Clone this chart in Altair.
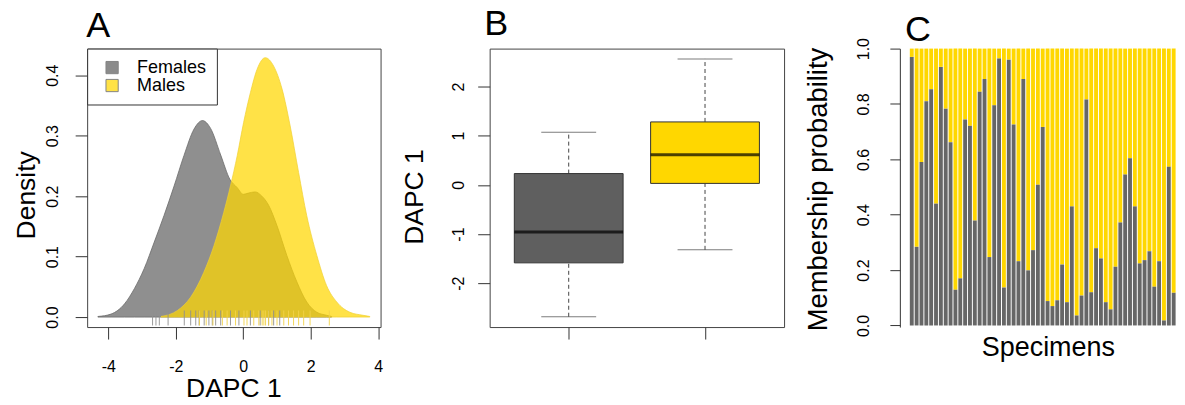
import altair as alt
import pandas as pd

FONT = "Liberation Sans"
INK = "#333333"
FRAME = "#444444"

# ---------------- data ----------------
groups = ["Females", "Males"]

# Panel A: kernel density curves (x = DAPC 1, y = density)
fem_x = [-4.31, -3.92, -3.52, -3.23, -2.94, -2.64, -2.35, -2.05, -1.76, -1.46,
         -1.21, -0.97, -0.67, -0.40, -0.18, 0.00, 0.15, 0.35, 0.55, 0.75,
         1.00, 1.29, 1.59, 1.88, 2.18, 2.47, 2.62]
fem_y = [0.001, 0.005, 0.022, 0.047, 0.080, 0.124, 0.168, 0.217, 0.267, 0.311,
         0.325, 0.312, 0.268, 0.228, 0.214, 0.203, 0.205, 0.207, 0.200, 0.185,
         0.151, 0.102, 0.058, 0.025, 0.008, 0.003, 0.001]
male_x = [-2.44, -1.95, -1.56, -1.17, -0.87, -0.58, -0.38, -0.18, 0.01, 0.21,
          0.41, 0.65, 0.90, 1.15, 1.39, 1.64, 1.88, 2.18, 2.47, 2.77,
          3.16, 3.55, 3.75]
male_y = [0.001, 0.011, 0.033, 0.074, 0.118, 0.173, 0.217, 0.267, 0.322, 0.371,
          0.410, 0.429, 0.415, 0.377, 0.316, 0.239, 0.168, 0.102, 0.052, 0.025,
          0.008, 0.003, 0.001]
fem_rug = [-2.69, -2.59, -2.49, -2.23, -1.75, -1.56, -1.41, -1.31, -1.16, -1.02,
           -0.92, -0.82, -0.67, -0.38, -0.13, 0.21, 0.50, 0.75, 0.90, 1.08]
male_rug = [-1.30, -1.10, -0.90, -0.62, -0.48, -0.23, 0.02, 0.11, 0.31, 0.46,
            0.56, 0.61, 0.66, 0.75, 0.85, 1.00, 1.20, 1.34, 1.49, 1.64,
            1.79, 1.98, 2.55]

# Panel B: boxplot summaries
box_pos = [1, 2]
whisk_lo = [-2.68, -1.32]
q1 = [-1.585, 0.03]
median = [-0.96, 0.61]
q3 = [0.23, 1.28]
whisk_hi = [1.07, 2.56]

# Panel C: membership probability (female group) per specimen
membership = [0.97, 0.284, 0.59, 0.81, 0.853, 0.44, 0.934, 0.783, 0.662, 0.129,
              0.17, 0.744, 0.721, 0.379, 0.844, 0.89, 0.247, 0.795, 0.964, 0.137,
              0.96, 0.726, 0.232, 0.89, 0.199, 0.272, 0.508, 0.717, 0.088, 0.07,
              0.091, 0.22, 0.084, 0.43, 0.036, 0.108, 0.816, 0.12, 0.279, 0.242,
              0.084, 0.058, 0.212, 0.372, 0.545, 0.604, 0.43, 0.224, 0.236, 0.268,
              0.14, 0.232, 0.018, 0.573, 0.118]

# ---------------- styles ----------------
DENS_FILL = ["#5f5f5f", "#FFD700"]
BOX_FILL = ["#666666", "#FFD700"]
H = 279
WC = 283


def title(letter, dx, offset):
    return alt.TitleParams(letter, anchor="start", frame="group", font=FONT,
                           fontSize=36, fontWeight="normal", color="black",
                           baseline="alphabetic", offset=offset, dx=dx)


common_axis = dict(grid=False, domain=False, tickColor=INK, tickWidth=1,
                   labelFont=FONT, labelFontSize=16, labelColor="black",
                   labelOverlap=False, labelFlush=False,
                   titleFont=FONT, titleFontWeight="normal", titleColor="black",
                   titleBaseline="alphabetic", titleAlign="center")

# ---------------- Panel A ----------------
fem_df = pd.DataFrame({"x": fem_x, "y": fem_y, "sex": groups[0]})
male_df = pd.DataFrame({"x": male_x, "y": male_y, "sex": groups[1]})
fem_rug_df = pd.DataFrame({"x": fem_rug, "sex": groups[0]})
male_rug_df = pd.DataFrame({"x": male_rug, "sex": groups[1]})

axA_x = alt.Axis(values=[-4, -2, 0, 2, 4], labelExpr="'' + datum.value",
                 tickSize=12, labelBaseline="alphabetic", labelPadding=33,
                 title="DAPC 1", titleFontSize=26.5, titleX=146.5, titleY=69.7,
                 **common_axis)
axA_y = alt.Axis(values=[0, 0.1, 0.2, 0.3, 0.4],
                 labelExpr="format(datum.value, '.1f')",
                 labelAngle=270, labelAlign="center", labelBaseline="alphabetic",
                 tickSize=12, labelPadding=17.3,
                 title="Density", titleFontSize=26.5, titleAngle=270,
                 titleX=-52.7, titleY=146.5, **common_axis)
xA = alt.X("x:Q", scale=alt.Scale(domain=[-4.63, 4.07], nice=False, zero=False, padding=0),
           axis=axA_x)
yA_scale = alt.Scale(domain=[-0.0165, 0.444], nice=False, zero=False, padding=0)
yA = alt.Y("y:Q", scale=yA_scale, axis=axA_y, stack=None)

legend = alt.Legend(orient="none", legendX=0, legendY=0, title=None,
                    strokeColor=INK, fillColor="white", padding=10,
                    symbolType="square", symbolSize=150, symbolStrokeColor="#555555",
                    symbolStrokeWidth=1, symbolOffset=6, symbolOpacity=0.72,
                    labelFont=FONT, labelFontSize=18, labelColor="black",
                    labelOffset=16, rowPadding=-3)
colA = alt.Color("sex:N", scale=alt.Scale(domain=groups, range=DENS_FILL), legend=legend)

area_f = alt.Chart(fem_df).mark_area(interpolate="monotone", fillOpacity=0.7,
                                     stroke="#6a6a6a", strokeWidth=1, strokeOpacity=0.8
                                     ).encode(x=xA, y=yA, color=colA)
area_m = alt.Chart(male_df).mark_area(interpolate="monotone", fillOpacity=0.72,
                                      stroke="#f0d030", strokeWidth=1, strokeOpacity=0.7
                                      ).encode(x=xA, y=yA, color=colA)
rug_f = alt.Chart(fem_rug_df).mark_rule(color="#8e8e8e", strokeWidth=1, opacity=0.9).encode(
    x=xA, y=alt.datum(-0.0139, scale=yA_scale), y2=alt.datum(0.0109))
rug_m = alt.Chart(male_rug_df).mark_rule(color="#f2d34a", strokeWidth=1, opacity=0.9).encode(
    x=xA, y=alt.datum(-0.0139, scale=yA_scale), y2=alt.datum(0.0109))

panelA = alt.layer(area_f, area_m, rug_f, rug_m).properties(
    width=294, height=H, title=title("A", -1, -24.6))

# ---------------- Panel B ----------------
box_df = pd.DataFrame({"sex": groups, "pos": box_pos, "lo": whisk_lo, "q1": q1,
                       "med": median, "q3": q3, "hi": whisk_hi})
axB_x = alt.Axis(values=[1, 2], labels=False, tickSize=12, title=None,
                 **{k: v for k, v in common_axis.items() if not k.startswith("title")})
axB_y = alt.Axis(values=[-2, -1, 0, 1, 2], labelExpr="'' + datum.value",
                 labelAngle=270, labelAlign="center", labelBaseline="alphabetic",
                 tickSize=12, labelPadding=14,
                 title="DAPC 1", titleFontSize=26.5, titleAngle=270,
                 titleX=-67.6, titleY=148.2, **common_axis)
xB = alt.X("pos:Q", scale=alt.Scale(domain=[0.42, 2.58], nice=False, zero=False, padding=0),
           axis=axB_x)
yB_scale = alt.Scale(domain=[-2.89, 2.77], nice=False, zero=False, padding=0)
bB = alt.Chart(box_df)
whisk_up = bB.mark_rule(color="#444444", strokeDash=[4, 3], strokeWidth=1).encode(
    x=xB, y=alt.Y("q3:Q", scale=yB_scale, axis=axB_y), y2="hi:Q")
whisk_dn = bB.mark_rule(color="#444444", strokeDash=[4, 3], strokeWidth=1).encode(
    x=xB, y=alt.Y("lo:Q", scale=yB_scale, axis=axB_y), y2="q1:Q")
cap_hi = bB.mark_tick(orient="horizontal", size=55, thickness=1, color="#444444").encode(
    x=xB, y=alt.Y("hi:Q", scale=yB_scale, axis=axB_y))
cap_lo = bB.mark_tick(orient="horizontal", size=55, thickness=1, color="#444444").encode(
    x=xB, y=alt.Y("lo:Q", scale=yB_scale, axis=axB_y))
boxes = bB.mark_bar(size=109, stroke=INK, strokeWidth=1).encode(
    x=xB, y=alt.Y("q1:Q", scale=yB_scale, axis=axB_y), y2="q3:Q",
    color=alt.Color("sex:N", scale=alt.Scale(domain=groups, range=BOX_FILL), legend=None))
meds = bB.mark_tick(orient="horizontal", size=109, thickness=3, color="black").encode(
    x=xB, y=alt.Y("med:Q", scale=yB_scale, axis=axB_y))

panelB = alt.layer(whisk_up, whisk_dn, cap_hi, cap_lo, boxes, meds).properties(
    width=295, height=H, title=title("B", -5.3, -22.2))

# ---------------- Panel C ----------------
spec_df = pd.DataFrame({"specimen": list(range(1, len(membership) + 1)), "p": membership})
axC_x = alt.Axis(labels=False, ticks=False, domain=False, title="Specimens",
                 titleFontSize=27, titleX=155, titleY=29,
                 **{k: v for k, v in common_axis.items() if k not in ("domain",)})
axC_y = alt.Axis(values=[0, 0.2, 0.4, 0.6, 0.8, 1.0],
                 labelExpr="format(datum.value, '.1f')",
                 labelAngle=270, labelAlign="center", labelBaseline="alphabetic",
                 tickSize=10, labelPadding=21.7, offset=-6.7,
                 title="Membership probability", titleFontSize=27.5, titleAngle=270,
                 titleX=-73.6, titleY=140.7,
                 **{**{k: v for k, v in common_axis.items() if k != "domain"},
                    "domain": True, "domainColor": INK})
xC = alt.X("specimen:O",
           scale=alt.Scale(range=[16.7, WC], paddingInner=0.2, paddingOuter=0),
           axis=axC_x)
yC_scale = alt.Scale(domain=[-0.0058, 1.0], nice=False, zero=False, padding=0)
bC = alt.Chart(spec_df)
bars_m = bC.mark_bar(color="#FFD700").encode(
    x=xC, y=alt.Y("p:Q", scale=yC_scale, axis=axC_y), y2=alt.datum(1))
bars_f = bC.mark_bar(color="#666666").encode(
    x=xC, y=alt.Y("p:Q", scale=yC_scale, axis=axC_y), y2=alt.datum(0))

panelC = alt.layer(bars_m, bars_f).properties(
    width=WC, height=H, title=title("C", 11.9, -39.7),
    view=alt.ViewBackground(stroke="transparent"))

chart = alt.hconcat(panelA, panelB, panelC, spacing=109.3, bounds="flush").properties(
    padding={"left": 4.3, "top": -3.7, "right": 0, "bottom": -3}
).configure_view(stroke=FRAME, strokeWidth=1)

chart.save("out.html", embed_options={"renderer": "svg", "actions": False})
